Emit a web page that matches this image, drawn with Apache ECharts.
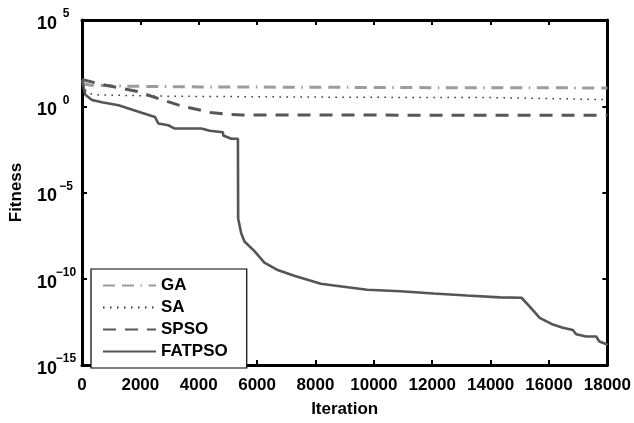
<!DOCTYPE html>
<html>
<head>
<meta charset="utf-8">
<script src="https://cdn.jsdelivr.net/npm/echarts@6/dist/echarts.min.js"></script>
<style>
  html, body { margin: 0; padding: 0; background: #fff; }
  #chart { width: 634px; height: 423px; }
</style>
</head>
<body>
<div id="chart"></div>
<script>
// Convergence curves: best fitness (log scale) against iteration count.
const seriesNames = ['GA', 'SA', 'SPSO', 'FATPSO'];

const gaIter = [0, 300, 1500, 4000, 8000, 12000, 16000, 18000];
const gaFitness = [21, 16.6, 14.5, 13.2, 12.6, 12.0, 11.7, 11.5];

const saIter = [0, 80, 200, 600, 3000, 8000, 12000, 14000, 16000, 17500, 18000];
const saFitness = [20, 10, 5.6, 4.5, 3.8, 3.4, 3.2, 3.2, 2.8, 2.5, 2.4];

const spsoIter = [0, 680, 1900, 2700, 3400, 4400, 5100, 5500, 18000];
const spsoFitness = [35.5, 18.6, 7.1, 2.5, 1.05, 0.44, 0.33, 0.31, 0.30];

const fatpsoIter = [
  0, 113, 341, 682, 1251, 2045, 2499, 2615, 2956, 3181, 4091, 4375, 4830, 4840,
  5114, 5342, 5350, 5454, 5567, 5908, 6249, 6705, 7271, 7728, 8182, 8635, 9774,
  10909, 12044, 13183, 14318, 15058, 15341, 15681, 16135, 16476, 16817, 16932,
  17273, 17614, 17727, 17955, 18000
];
const fatpsoFitness = [
  35, 4.6, 2.3, 1.7, 1.15, 0.42, 0.24, 0.1, 0.079, 0.051, 0.051, 0.038, 0.031, 0.02,
  0.013, 0.013, 3.1e-7, 4.4e-8, 1.45e-8, 4.0e-9, 8.7e-10, 3.2e-10, 1.5e-10, 8.7e-11,
  5.1e-11, 4.1e-11, 2.3e-11, 1.9e-11, 1.4e-11, 1.07e-11, 8.3e-12, 7.9e-12, 2.45e-12,
  5.4e-13, 2.2e-13, 1.45e-13, 1.07e-13, 6.0e-14, 4.5e-14, 4.5e-14, 2.3e-14, 1.66e-14, 1.4e-14
];

// Axis ticks: iterations, and decades of fitness (exponents of 10)
const xTicks = [0, 2000, 4000, 6000, 8000, 10000, 12000, 14000, 16000, 18000];
const yDecades = [-15, -10, -5, 0, 5];

const FONT = 'Liberation Sans, Arial, Helvetica, sans-serif';

function toPairs(iters, values) {
  return iters.map((it, i) => [it, Math.log10(values[i])]);
}

function decadeLabel(v) {
  const e = v < 0 ? '\u2212' + (-v) : String(v);
  return '{b|10}{e|' + e + '}';
}

const chart = echarts.init(document.getElementById('chart'), null, { renderer: 'canvas' });

const axisLineStyle = { color: '#000', width: 3 };
const tickStyle = { show: true, inside: true, length: 5, lineStyle: { color: '#000', width: 2 } };

const xBase = {
  type: 'value',
  min: xTicks[0],
  max: xTicks[xTicks.length - 1],
  interval: xTicks[1] - xTicks[0],
  splitLine: { show: false },
  axisLine: { show: true, onZero: false, lineStyle: axisLineStyle },
  axisTick: tickStyle
};
const yBase = {
  type: 'value',
  min: yDecades[0],
  max: yDecades[yDecades.length - 1],
  interval: yDecades[1] - yDecades[0],
  splitLine: { show: false },
  axisLine: { show: true, onZero: false, lineStyle: axisLineStyle },
  axisTick: tickStyle
};

const option = {
  animation: false,
  backgroundColor: '#fff',
  grid: { left: 80, right: 26, top: 20, bottom: 50, containLabel: false },
  xAxis: [
    Object.assign({}, xBase, {
      position: 'bottom',
      name: 'Iteration',
      nameLocation: 'middle',
      nameGap: 36,
      nameTextStyle: { fontFamily: FONT, fontWeight: 'bold', fontSize: 17, color: '#000' },
      axisLabel: {
        fontFamily: FONT, fontWeight: 'bold', fontSize: 17, color: '#000', margin: 12,
        formatter: (v) => String(v)
      }
    }),
    Object.assign({}, xBase, { position: 'top', axisLabel: { show: false } })
  ],
  yAxis: [
    Object.assign({}, yBase, {
      position: 'left',
      name: 'Fitness',
      nameLocation: 'middle',
      nameGap: 57,
      nameTextStyle: { fontFamily: FONT, fontWeight: 'bold', fontSize: 17, color: '#000' },
      axisLabel: {
        margin: 8,
        formatter: decadeLabel,
        rich: {
          b: { fontFamily: FONT, fontWeight: 'bold', fontSize: 18, color: '#000',
               padding: [8, 0, 0, 0] },
          e: { fontFamily: FONT, fontWeight: 'bold', fontSize: 12, color: '#000',
               width: 16, align: 'left', padding: [0, 0, 12, 1] }
        }
      }
    }),
    Object.assign({}, yBase, { position: 'right', axisLabel: { show: false } })
  ],
  legend: {
    show: true,
    orient: 'vertical',
    left: 91,
    top: 269,
    padding: [8, 19, 8, 11],
    itemWidth: 53,
    itemHeight: 14,
    itemGap: 5,
    borderColor: '#000',
    borderWidth: 1.2,
    borderRadius: 0,
    backgroundColor: '#fff',
    itemStyle: { opacity: 0 },
    textStyle: { fontFamily: FONT, fontWeight: 'bold', fontSize: 17, color: '#000' },
    data: seriesNames
  },
  series: [
    {
      name: seriesNames[0], type: 'line', symbol: 'none',
      data: toPairs(gaIter, gaFitness),
      lineStyle: { color: '#9c9c9c', width: 3, type: [12, 7, 12, 6.5, 1.5, 6.5] },
      itemStyle: { color: '#9c9c9c' }
    },
    {
      name: seriesNames[1], type: 'line', symbol: 'none',
      data: toPairs(saIter, saFitness),
      lineStyle: { color: '#333', width: 1.5, type: [1.5, 5.5] },
      itemStyle: { color: '#333' }
    },
    {
      name: seriesNames[2], type: 'line', symbol: 'none',
      data: toPairs(spsoIter, spsoFitness),
      lineStyle: { color: '#575757', width: 3, type: [13, 9] },
      itemStyle: { color: '#575757' }
    },
    {
      name: seriesNames[3], type: 'line', symbol: 'none',
      data: toPairs(fatpsoIter, fatpsoFitness),
      lineStyle: { color: '#555', width: 2.6, type: 'solid' },
      itemStyle: { color: '#555' }
    }
  ]
};

chart.setOption(option);
</script>
</body>
</html>
